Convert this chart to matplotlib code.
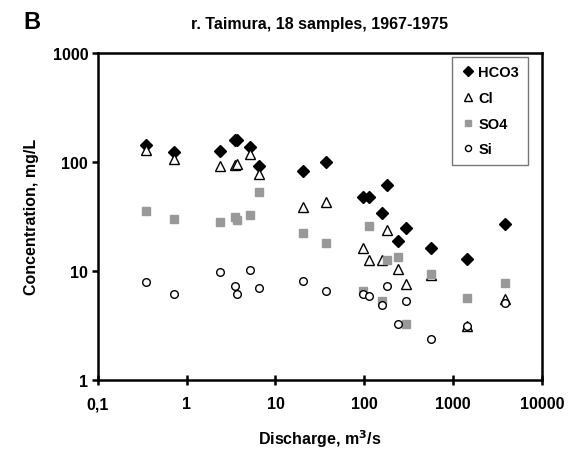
import matplotlib.pyplot as plt
from matplotlib.ticker import FixedLocator, NullLocator

plt.rcParams["font.family"] = ["Liberation Sans", "DejaVu Sans"]
plt.rcParams["font.weight"] = "bold"

# discharge, m3/s (18 samples)
discharge = [0.35, 0.72, 2.38, 3.5, 3.65, 5.2, 6.5, 20.5, 37, 97, 112,
             157, 178, 237, 294, 567, 1419, 3860]
hco3 = [142, 123, 125, 158, 158, 137, 91, 83, 100, 47.5, 47.5,
        34.3, 62, 18.9, 24.7, 16.3, 12.9, 27.2]
cl = [128, 107, 92.5, 94, 96, 119, 78, 38.5, 42.6, 16.4, 12.6,
      12.6, 23.7, 10.4, 7.6, 9.1, 3.16, 5.5]
so4 = [35.7, 30, 28, 31, 29.4, 32.9, 52.5, 22.2, 18.1, 6.6, 25.7,
       5.25, 12.6, 13.5, 3.24, 9.3, 5.7, 7.7]
si = [7.9, 6.1, 9.7, 7.3, 6.1, 10.1, 7.0, 8.1, 6.6, 6.1, 5.9,
      4.9, 7.3, 3.24, 5.3, 2.4, 3.16, 5.1]

x_ticks = [0.1, 1, 10, 100, 1000, 10000]
x_labels = ["0,1", "1", "10", "100", "1000", "10000"]
y_ticks = [1, 10, 100, 1000]
y_labels = ["1", "10", "100", "1000"]

fig = plt.figure(figsize=(5.79, 4.52), dpi=100)
ax = fig.add_axes([0.169, 0.157, 0.767, 0.724])

ax.plot(discharge, hco3, "D", color="black", ms=6, ls="none", label="HCO3")
ax.plot(discharge, cl, "^", mfc="white", mec="black", mew=1.0, ms=6.5,
        ls="none", label="Cl")
ax.plot(discharge, so4, "s", color="#999999", mec="#999999", ms=5.5,
        ls="none", label="SO4")
ax.plot(discharge, si, "o", mfc="white", mec="black", mew=1.0, ms=5.5,
        ls="none", label="Si")

ax.set_xscale("log")
ax.set_yscale("log")
ax.set_xlim(0.1, 10000)
ax.set_ylim(1, 1000)
ax.xaxis.set_major_locator(FixedLocator(x_ticks))
ax.xaxis.set_minor_locator(NullLocator())
ax.yaxis.set_major_locator(FixedLocator(y_ticks))
ax.yaxis.set_minor_locator(NullLocator())
ax.set_xticklabels(x_labels)
ax.set_yticklabels(y_labels)

for s in ax.spines.values():
    s.set_linewidth(1.8)
ax.tick_params(axis="x", direction="inout", length=7, width=1.8,
               labelsize=11.5, pad=8)
ax.tick_params(axis="y", direction="out", length=4, width=1.8,
               labelsize=11.5, pad=3)

ax.set_xlabel("Discharge, m$^\\mathbf{3}$/s", fontsize=11.5, fontweight="bold",
              labelpad=12)
ax.set_ylabel("Concentration, mg/L", fontsize=11.5, fontweight="bold",
              labelpad=10)
ax.set_title("r. Taimura, 18 samples, 1967-1975", fontsize=11.5,
             fontweight="bold", pad=18)
fig.text(0.04, 0.935, "B", fontsize=17, fontweight="bold")

leg = ax.legend(loc="upper right", bbox_to_anchor=(0.968, 0.988),
                fontsize=10.5, frameon=True, fancybox=False,
                borderpad=0.6, handletextpad=0.2, handlelength=1.0,
                labelspacing=0.8, markerscale=0.8, borderaxespad=0)
leg.get_frame().set_edgecolor("#555555")
leg.get_frame().set_linewidth(1.0)
for t in leg.get_texts():
    t.set_fontweight("bold")

fig.savefig("out.png", dpi=100)
